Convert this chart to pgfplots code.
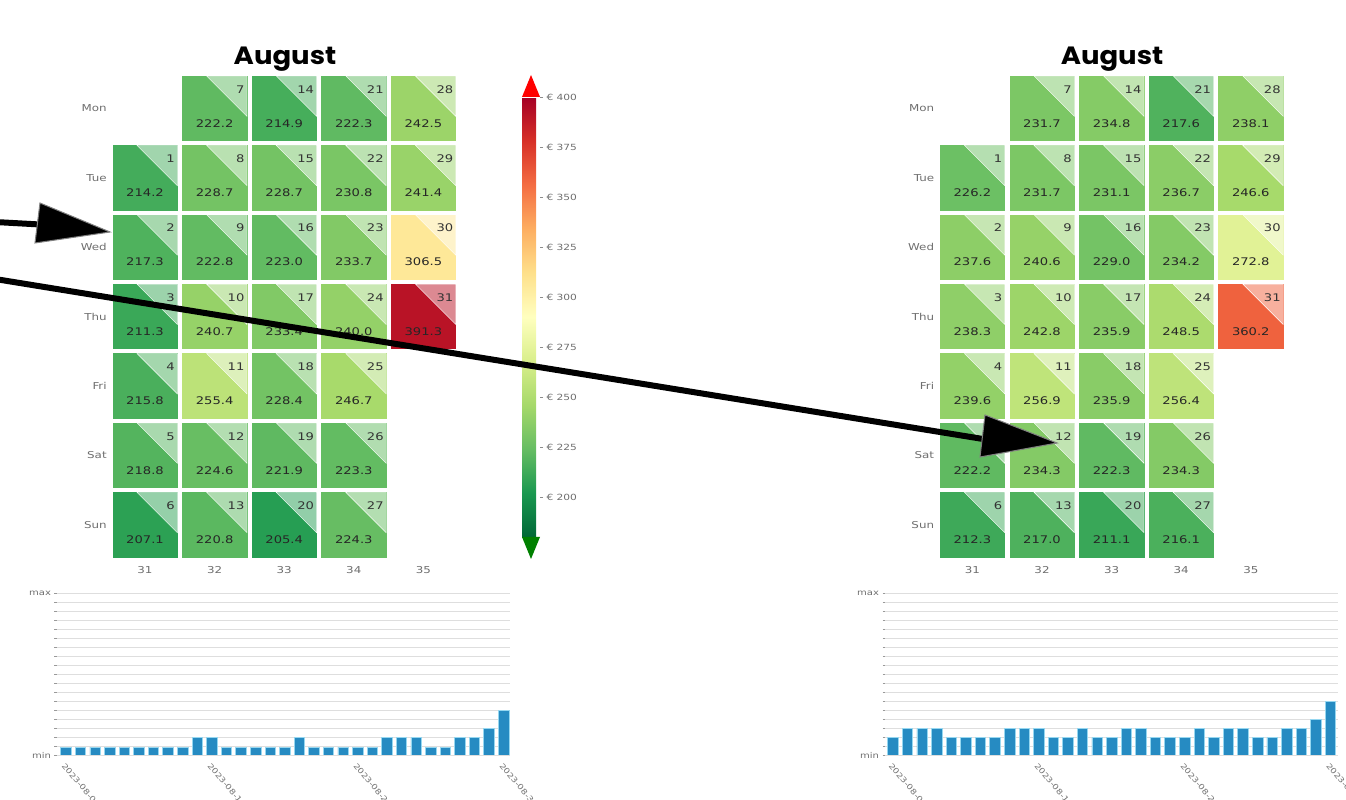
\documentclass[border=0pt]{standalone}
\usepackage{pgfplots}
\pgfplotsset{compat=1.18}
\usepackage{pgfplotstable}
\usepackage{fontspec}
\setmainfont{DejaVu Sans}[FakeStretch=1.25]
\newfontfamily\titlefont{Poppins}[FakeStretch=1.1]
\definecolor{barblue}{RGB}{38,139,194}
\definecolor{baredge}{RGB}{150,215,240}
\definecolor{lbl}{RGB}{110,110,110}

\pgfplotstableread{
w r day val
31 6 1 214.2
31 5 2 217.3
31 4 3 211.3
31 3 4 215.8
31 2 5 218.8
31 1 6 207.1
32 7 7 222.2
32 6 8 228.7
32 5 9 222.8
32 4 10 240.7
32 3 11 255.4
32 2 12 224.6
32 1 13 220.8
33 7 14 214.9
33 6 15 228.7
33 5 16 223.0
33 4 17 233.4
33 3 18 228.4
33 2 19 221.9
33 1 20 205.4
34 7 21 222.3
34 6 22 230.8
34 5 23 233.7
34 4 24 240.0
34 3 25 246.7
34 2 26 223.3
34 1 27 224.3
35 7 28 242.5
35 6 29 241.4
35 5 30 306.5
35 4 31 391.3
}\leftcal

\pgfplotstableread{
w r day val
31 6 1 226.2
31 5 2 237.6
31 4 3 238.3
31 3 4 239.6
31 2 5 222.2
31 1 6 212.3
32 7 7 231.7
32 6 8 231.7
32 5 9 240.6
32 4 10 242.8
32 3 11 256.9
32 2 12 234.3
32 1 13 217.0
33 7 14 234.8
33 6 15 231.1
33 5 16 229.0
33 4 17 235.9
33 3 18 235.9
33 2 19 222.3
33 1 20 211.1
34 7 21 217.6
34 6 22 236.7
34 5 23 234.2
34 4 24 248.5
34 3 25 256.4
34 2 26 234.3
34 1 27 216.1
35 7 28 238.1
35 6 29 246.6
35 5 30 272.8
35 4 31 360.2
}\rightcal

\pgfplotstableread{
d h
1 0.88
2 0.88
3 0.88
4 0.88
5 0.88
6 0.88
7 0.88
8 0.88
9 0.88
10 1.92
11 1.92
12 0.88
13 0.88
14 0.88
15 0.88
16 0.88
17 1.92
18 0.88
19 0.88
20 0.88
21 0.88
22 0.88
23 1.92
24 1.92
25 1.92
26 0.88
27 0.88
28 1.92
29 1.92
30 2.92
31 4.92
}\leftbars

\pgfplotstableread{
d h
1 1.92
2 2.94
3 2.94
4 2.94
5 1.92
6 1.92
7 1.92
8 1.92
9 2.94
10 2.94
11 2.94
12 1.92
13 1.92
14 2.94
15 1.92
16 1.92
17 2.94
18 2.94
19 1.92
20 1.92
21 1.92
22 2.94
23 1.92
24 2.94
25 2.94
26 1.92
27 1.92
28 2.94
29 2.94
30 3.90
31 5.90
}\rightbars

\pgfplotsset{
  colormap={rdylgnr}{rgb255=(0,104,55) rgb255=(26,152,80) rgb255=(102,189,99) rgb255=(166,217,106) rgb255=(217,239,139) rgb255=(255,255,191) rgb255=(254,224,139) rgb255=(253,174,97) rgb255=(244,109,67) rgb255=(215,48,39) rgb255=(165,0,38)},
  calaxis/.style={
    anchor=south west,
    scale only axis, width=348pt, height=485.8pt,
    xmin=30.5, xmax=35.5, ymin=0.5, ymax=7.5,
    clip=false, axis line style={draw=none}, major tick length=0pt,
    colormap name=rdylgnr, point meta min=180, point meta max=400,
    xtick={31,32,33,34,35}, xticklabels={31,32,33,34,35},
    ytick={1,2,3,4,5,6,7}, yticklabels={Sun,Sat,Fri,Thu,Wed,Tue,Mon},
    tick label style={font=\fontsize{9.5}{11}\selectfont, text=lbl},
    xticklabel style={yshift=-4pt},
  },
  calplot/.style={
    scatter, only marks, mark=square*, mark size=32.2pt,
    point meta=explicit,
    visualization depends on={\thisrow{day}\as\dayn},
    visualization depends on={\thisrow{val}\as\valtxt},
    scatter/use mapped color={draw=mapped color, fill=mapped color},
    scatter/@post marker code/.code={%
      \fill[white, fill opacity=0.5] (-8pt,32.4pt) -- (32.4pt,32.4pt) -- (32.4pt,-8pt) -- cycle;
      \node[anchor=east, inner sep=0pt, font=\fontsize{10.5}{12}\selectfont, text=black!80] at (30pt,19pt)
        {\pgfmathprintnumber[fixed, precision=0, assume math mode=true]{\dayn}};
      \node[inner sep=0pt, font=\fontsize{10.5}{12}\selectfont, text=black!85] at (0pt,-15pt)
        {\pgfmathprintnumber[fixed, fixed zerofill, precision=1, assume math mode=true]{\valtxt}};
      \endscope
    },
  },
  baraxis/.style={
    anchor=south west, scale only axis, width=453pt, height=162pt,
    ymin=0, ymax=18, axis line style={draw=none},
    ytick={0,18}, yticklabels={min,max}, minor ytick={1,...,17},
    ymajorgrids, yminorgrids,
    major grid style={black!13, line width=0.9pt},
    minor grid style={black!13, line width=0.9pt},
    ytick pos=left, xtick pos=bottom, tick align=outside,
    major tick length=2.5pt, minor tick length=2.5pt,
    tick style={black!40, line width=0.6pt},
    xtick style={draw=none},
    xtick={1,11,21,31},
    xticklabels={2023-08-01,2023-08-11,2023-08-21,2023-08-31},
    xticklabel style={rotate=-50, anchor=north west, font=\fontsize{7.5}{9}\selectfont, text=lbl},
    yticklabel style={font=\fontsize{8}{9}\selectfont, text=lbl},
  },
  barplot/.style={ybar, bar width=10.5pt, fill=barblue, draw=baredge, line width=0.8pt},
}

\begin{document}
\begin{tikzpicture}[x=1pt,y=1pt]
% left heatmap with colorbar
\begin{axis}[calaxis, at={(110.2pt,240.6pt)},
  colorbar,
  colorbar shift/.style={xshift=63.8pt, yshift=-23.4pt},
  colorbar style={
    at={(parent axis.north east)}, anchor=north west,
    scale only axis, width=18pt, height=440pt,
    ytick={200,225,250,275,300,325,350,375,400},
    yticklabels={€ 200,€ 225,€ 250,€ 275,€ 300,€ 325,€ 350,€ 375,€ 400},
    yticklabel style={font=\fontsize{8.5}{10}\selectfont, text=lbl},
    axis line style={draw=none},
    ytick pos=right, yticklabel pos=right, tick align=outside,
    major tick length=3pt,
    ytick style={draw=black!45, line width=0.6pt},
  }]
\addplot[calplot] table[x=w, y=r, meta=val] {\leftcal};
\end{axis}

% right heatmap
\begin{axis}[calaxis, at={(937.6pt,240.6pt)}]
\addplot[calplot] table[x=w, y=r, meta=val] {\rightcal};
\end{axis}

% bar charts
\begin{axis}[baraxis, at={(57pt,45pt)}, xmin=0.383, xmax=31.43]
\addplot[barplot] table[x=d, y=h] {\leftbars};
\end{axis}
\begin{axis}[baraxis, at={(885pt,45pt)}, xmin=0.45, xmax=31.51]
\addplot[barplot] table[x=d, y=h] {\rightbars};
\end{axis}

% titles
\node[font=\titlefont\bfseries\fontsize{25}{30}\selectfont, inner sep=0pt] at (285,741) {August};
\node[font=\titlefont\bfseries\fontsize{25}{30}\selectfont, inner sep=0pt] at (1112,741) {August};

% colorbar extensions
\fill[red] (522,703) -- (540,703) -- (531,725) -- cycle;
\fill[green!50!black] (522,263) -- (540,263) -- (531,241) -- cycle;

% annotation arrows
\draw[line width=6pt] (-5,578) -- (40,575.5);
\filldraw[fill=black, draw=black!50, line width=1pt] (40,597) -- (110,568) -- (35,557) -- cycle;
\draw[line width=6pt] (-5,521) -- (983,361);
\filldraw[fill=black, draw=black!50, line width=1pt] (985,385) -- (1057,357) -- (980,343) -- cycle;

\pgfresetboundingbox
\useasboundingbox (0,0) rectangle (1346,800);
\end{tikzpicture}
\end{document}
